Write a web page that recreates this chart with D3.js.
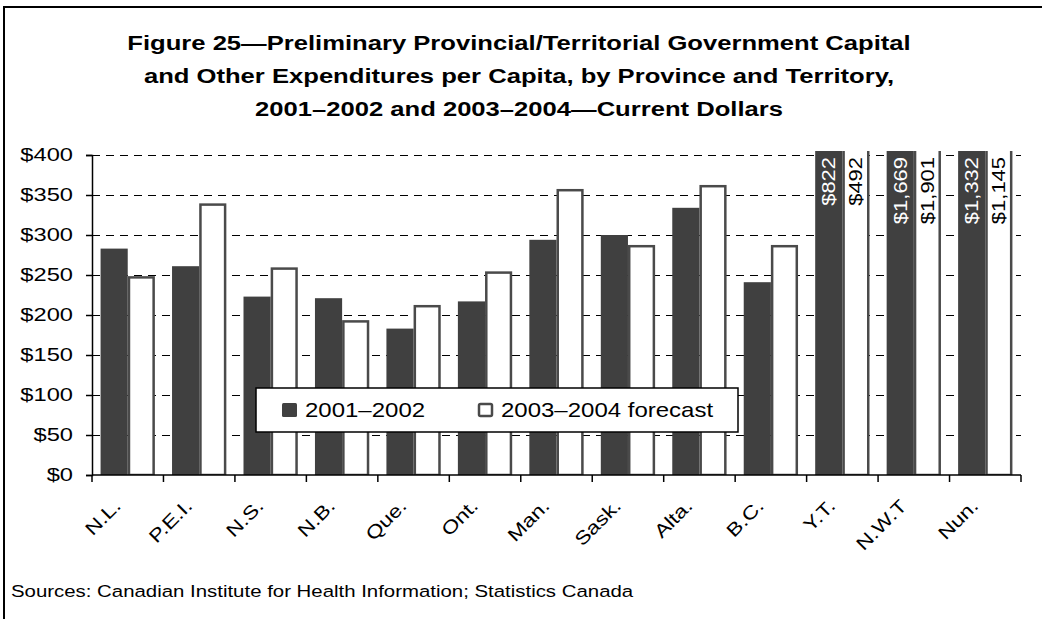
<!DOCTYPE html>
<html>
<head>
<meta charset="utf-8">
<script src="https://cdn.jsdelivr.net/npm/d3@7"></script>
<style>
  body { margin: 0; background: #fff; }
  text { font-family: "Liberation Sans", Arial, sans-serif; fill: #000; }
</style>
</head>
<body>
<script>
// chart values
var provinces = ["N.L.", "P.E.I.", "N.S.", "N.B.", "Que.", "Ont.", "Man.", "Sask.", "Alta.", "B.C.", "Y.T.", "N.W.T", "Nun."];
var exp2001 = [283, 261, 223, 221, 183, 217, 294, 300, 334, 241, 822, 1669, 1332];
var exp2003 = [247, 338, 258, 192, 211, 253, 356, 286, 361, 286, 492, 1901, 1145];
var seriesNames = ["2001\u20132002", "2003\u20132004 forecast"];
var yTicks = [0, 50, 100, 150, 200, 250, 300, 350, 400];
var titleLines = [
  "Figure 25\u2014Preliminary Provincial/Territorial Government Capital",
  "and Other Expenditures per Capita, by Province and Territory,",
  "2001\u20132002 and 2003\u20132004\u2014Current Dollars"
];
var sourceText = "Sources: Canadian Institute for Health Information; Statistics Canada";

window.onload = () => {
  var W = 1042, H = 619;
  var margin = { top: 155, left: 92, right: 21, bottom: 144 };
  var plotTop = 151; // bars above the axis max get cut here
  var width = W - margin.left - margin.right,
    height = H - margin.top - margin.bottom;

  var darkFill = "#404040", edge = "#4a4a4a";
  var stretch = 1.22; // the reference type is set wide

  var svg = d3.select("body").append("svg")
    .attr("width", W)
    .attr("height", H);

  // outer frame (top and left edges show in the picture)
  svg.append("path")
    .attr("d", "M4,700 L4,7 L1100,7")
    .attr("fill", "none")
    .attr("stroke", "#000")
    .attr("stroke-width", 2);

  // title
  svg.selectAll(".title")
    .data(titleLines)
    .enter().append("text")
    .attr("class", "title")
    .attr("text-anchor", "middle")
    .attr("font-size", 21)
    .attr("font-weight", "bold")
    .attr("transform", (d, i) => "translate(519," + (50 + i * 33) + ") scale(" + stretch + ",1)")
    .text(d => d);

  var g = svg.append("g")
    .attr("transform", "translate(" + margin.left + "," + margin.top + ")");

  var x = d3.scaleBand().domain(provinces).range([0, width])
    .paddingInner(0.24).paddingOuter(0.12);
  var x1 = d3.scaleBand().domain([0, 1]).range([0, x.bandwidth()]);
  var y = d3.scaleLinear().domain([0, 400]).range([height, 0]);

  // gridlines
  g.selectAll(".grid")
    .data(yTicks.filter(d => d > 0))
    .enter().append("line")
    .attr("x1", 0).attr("x2", width)
    .attr("y1", d => Math.round(y(d)) + 0.5)
    .attr("y2", d => Math.round(y(d)) + 0.5)
    .attr("stroke", "#000")
    .attr("stroke-dasharray", "8,6");

  // bars, clipped at the top of the plot
  g.append("clipPath").attr("id", "plotclip")
    .append("rect")
    .attr("x", -2).attr("y", plotTop - margin.top)
    .attr("width", width + 4).attr("height", height - (plotTop - margin.top));

  var bars = g.append("g").attr("clip-path", "url(#plotclip)");
  var sw = 2.5;

  bars.selectAll(".b1")
    .data(provinces)
    .enter().append("rect")
    .attr("x", (d) => x(d) + x1(0))
    .attr("width", x1.bandwidth())
    .attr("y", (d, i) => y(exp2001[i]))
    .attr("height", (d, i) => y(0) - y(exp2001[i]))
    .attr("fill", darkFill);

  bars.selectAll(".b2")
    .data(provinces)
    .enter().append("rect")
    .attr("x", (d) => x(d) + x1(1) + sw / 2)
    .attr("width", x1.bandwidth() - sw)
    .attr("y", (d, i) => y(exp2003[i]))
    .attr("height", (d, i) => y(0) - y(exp2003[i]))
    .attr("fill", "#fff")
    .attr("stroke", edge)
    .attr("stroke-width", sw);

  // value labels on the bars that run off the top
  var fmt = d3.format("$,");
  var over = [];
  provinces.forEach((p, i) => {
    if (exp2001[i] > 400) over.push({ p: p, s: 0, v: exp2001[i] });
    if (exp2003[i] > 400) over.push({ p: p, s: 1, v: exp2003[i] });
  });
  g.selectAll(".vlab")
    .data(over)
    .enter().append("text")
    .attr("text-anchor", "end")
    .attr("font-size", 18)
    .attr("dy", "0.36em")
    .style("fill", d => d.s == 0 ? "#fff" : "#000")
    .attr("transform", d => "translate(" + (x(d.p) + x1(d.s) + x1.bandwidth() / 2) + "," + (y(400) + 2) + ") rotate(-90) scale(" + stretch + ",1)")
    .text(d => fmt(d.v));

  // y axis
  var yAxis = g.append("g")
    .call(d3.axisLeft(y).tickValues(yTicks).tickFormat(d => "$" + d).tickSize(6));
  yAxis.select(".domain").attr("stroke", "#000").attr("stroke-width", 1.5);
  yAxis.selectAll(".tick line").attr("stroke", "#000").attr("stroke-width", 1.5);
  yAxis.selectAll(".tick text")
    .attr("font-size", 18.5)
    .attr("font-family", null)
    .attr("x", -19 / 1.28)
    .attr("transform", "scale(1.28,1)");

  // x axis line and ticks at the category borders
  var half = x.paddingInner() * x.step() / 2;
  var borders = provinces.map(p => x(p) - half).concat([width]);
  g.append("line")
    .attr("x1", 0).attr("x2", width)
    .attr("y1", height).attr("y2", height)
    .attr("stroke", "#000").attr("stroke-width", 1.5);
  g.selectAll(".xtick")
    .data(borders)
    .enter().append("line")
    .attr("x1", d => d).attr("x2", d => d)
    .attr("y1", height).attr("y2", height + 7)
    .attr("stroke", "#000").attr("stroke-width", 1.5);

  g.selectAll(".xlab")
    .data(provinces)
    .enter().append("text")
    .attr("text-anchor", "end")
    .attr("font-size", 18.5)
    .attr("dy", "0.7em")
    .attr("transform", d => "translate(" + (x(d) + x.bandwidth() / 2 - 15) + "," + (height + 23) + ") rotate(-45) scale(" + stretch + ",1)")
    .text(d => d);

  // legend
  var leg = svg.append("g").attr("transform", "translate(256,388)");
  leg.append("rect")
    .attr("width", 482).attr("height", 44)
    .attr("fill", "#fff").attr("stroke", "#000").attr("stroke-width", 1.5);
  var legX = [26, 222];
  seriesNames.forEach((name, i) => {
    leg.append("rect")
      .attr("x", legX[i] + (i ? 1 : 0)).attr("y", 15 + (i ? 1 : 0))
      .attr("width", i ? 13 : 15).attr("height", i ? 12 : 14)
      .attr("rx", 1.5)
      .attr("fill", i ? "#fff" : darkFill)
      .attr("stroke", i ? edge : "none")
      .attr("stroke-width", 2.5);
    leg.append("text")
      .attr("font-size", 20)
      .attr("transform", "translate(" + (legX[i] + 23) + ",29) scale(1.2,1)")
      .text(name);
  });

  // source note
  svg.append("text")
    .attr("font-size", 17)
    .attr("transform", "translate(11,597) scale(" + 1.2 + ",1)")
    .text(sourceText);
};
</script>
</body>
</html>
